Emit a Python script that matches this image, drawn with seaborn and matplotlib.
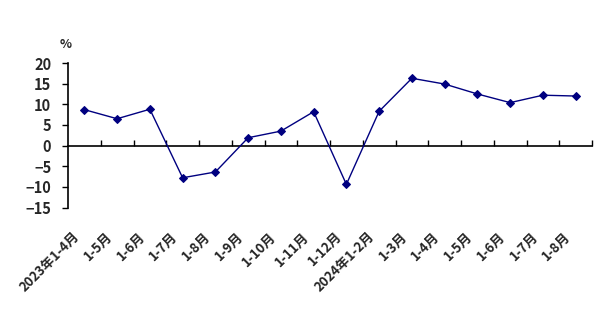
import numpy as np
import pandas as pd
import matplotlib
matplotlib.use("Agg")
import matplotlib.pyplot as plt
import matplotlib.transforms as mtransforms
import seaborn as sns

categories = ["2023年1-4月", "1-5月", "1-6月", "1-7月", "1-8月", "1-9月", "1-10月",
              "1-11月", "1-12月", "2024年1-2月", "1-3月", "1-4月", "1-5月", "1-6月",
              "1-7月", "1-8月"]
values = [8.7, 6.5, 8.8, -7.8, -6.4, 1.9, 3.5, 8.2, -9.4, 8.3, 16.3, 14.9, 12.5, 10.4, 12.2, 12.0]
yticks = [-15, -10, -5, 0, 5, 10, 15, 20]
unit_label = "%"

sns.set_theme(style="white")
plt.rcParams['font.family'] = ['Noto Sans CJK SC', 'DejaVu Sans']
plt.rcParams['axes.unicode_minus'] = True

df = pd.DataFrame({"pos": np.arange(len(categories)), "value": values})

fig = plt.figure(figsize=(6.02, 3.22), dpi=100)
ax = fig.add_axes([68/602, 1-207.5/322, (592-68)/602, (207.5-63)/322])

sns.lineplot(data=df, x="pos", y="value", ax=ax, color="#000080", linewidth=1.0,
             marker="D", markersize=4, markeredgecolor="#000080", sort=False)

ymin, ymax = yticks[0], yticks[-1]
ax.set_ylim(ymin, ymax)
ax.set_xlim(-0.5, len(categories) - 0.5)
ax.set_yticks(yticks)
ax.set_yticklabels([str(t).replace("-", "\u2212") for t in yticks], fontsize=10.5, fontweight="bold")
ax.set_xticks(df["pos"])
ax.set_xticklabels(categories, rotation=45, ha="right", rotation_mode="anchor",
                   fontsize=9.5, fontweight="bold")
ax.tick_params(axis="x", length=0, pad=18)
ax.tick_params(axis="y", direction="out", length=4, width=1, color="black", pad=8, left=True)
offset = mtransforms.ScaledTranslation(-12/100, 3/100, fig.dpi_scale_trans)
for lab in ax.get_xticklabels():
    lab.set_transform(lab.get_transform() + offset)
ax.set_xlabel("")
ax.set_ylabel("")
for s in ["top", "right", "bottom"]:
    ax.spines[s].set_visible(False)
ax.spines["left"].set_color("black")
ax.spines["left"].set_linewidth(1.2)

sec = ax.secondary_xaxis((0 - ymin) / (ymax - ymin))
sec.set_xticks(np.arange(0.5, len(categories), 1))
sec.set_xticklabels([])
sec.tick_params(axis="x", direction="in", length=4, width=1, color="black")
sec.spines["bottom"].set_color("black")
sec.spines["bottom"].set_linewidth(1.2)

fig.text(66/602, 1-44/322, unit_label, ha="center", va="center", fontsize=9, fontweight="bold")

fig.savefig("out.png", dpi=100)
